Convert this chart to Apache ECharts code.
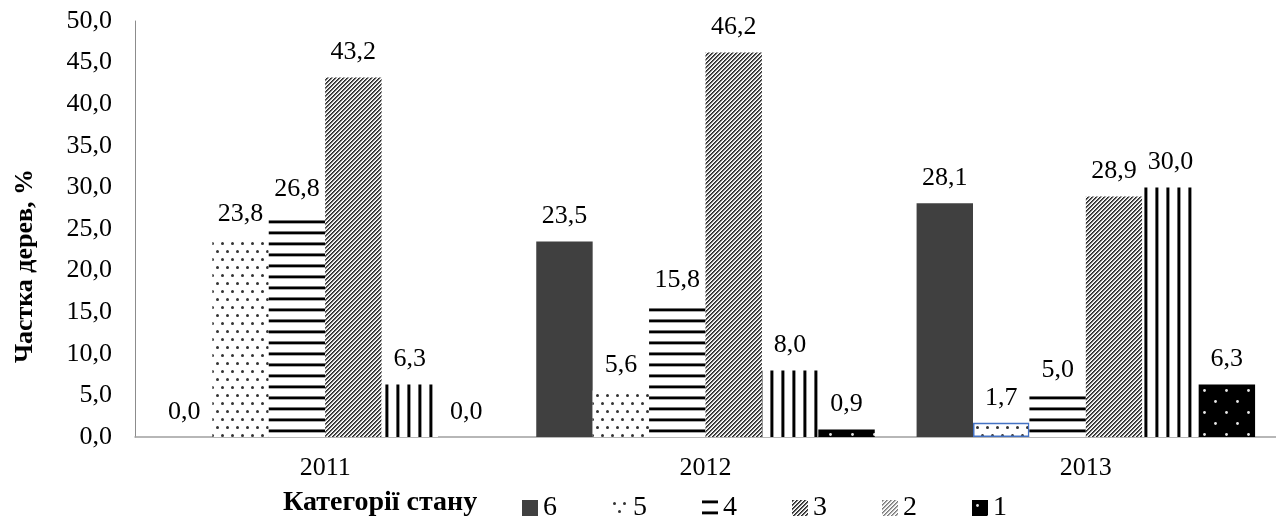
<!DOCTYPE html>
<html>
<head>
<meta charset="utf-8">
<script src="https://cdn.jsdelivr.net/npm/echarts@6/dist/echarts.min.js"></script>
<style>
  html, body { margin: 0; padding: 0; background: #fff; }
  #chart { width: 1276px; height: 518px; }
</style>
</head>
<body>
<div id="chart"></div>
<script>
// Частка дерев за категоріями стану, 2011–2013
const categories = ['2011', '2012', '2013'];
const seriesNames = ['6', '5', '4', '3', '2', '1'];
const cat6 = [0.0, 23.5, 28.1];
const cat5 = [23.8, 5.6, 1.7];
const cat4 = [26.8, 15.8, 5.0];
const cat3 = [43.2, 46.2, 28.9];
const cat2 = [6.3, 8.0, 30.0];
const cat1 = [0.0, 0.9, 6.3];
const yMin = 0, yMax = 50, yStep = 5;
const yAxisTitle = 'Частка дерев, %';
const legendTitle = 'Категорії стану';

const FONT = '"Liberation Serif", "Times New Roman", serif';

// --- fill patterns -------------------------------------------------------
function tile(w, h, draw) {
  const c = document.createElement('canvas');
  c.width = w; c.height = h;
  const g = c.getContext('2d');
  draw(g, w, h);
  return c;
}
function pattern(canvas) { return { image: canvas, repeat: 'repeat' }; }

// small dark dots on white, staggered
const dotsLight = tile(10, 16, (g, w, h) => {
  g.fillStyle = '#fff'; g.fillRect(0, 0, w, h);
  g.fillStyle = '#333';
  [[2.5, 3.5], [7.5, 11.5]].forEach(([x, y]) => { g.beginPath(); g.arc(x, y, 1.5, 0, Math.PI * 2); g.fill(); });
});
// horizontal black stripes
const hLines = tile(4, 11, (g, w, h) => {
  g.fillStyle = '#fff'; g.fillRect(0, 0, w, h);
  g.fillStyle = '#777'; g.fillRect(0, 0, w, 1);
  g.fillStyle = '#000'; g.fillRect(0, 1, w, 2);
  g.fillStyle = '#aaa'; g.fillRect(0, 3, w, 1);
});
// dense upward diagonal stripes
function diagTile(shades) {
  return tile(4, 4, (g, w, h) => {
    for (let y = 0; y < h; y++) for (let x = 0; x < w; x++) {
      g.fillStyle = shades[(x + y) % 4];
      g.fillRect(x, y, 1, 1);
    }
  });
}
const diag = diagTile(['#2a2a2a', '#5a5a5a', '#d8d8d8', '#ffffff']);
const diagLight = diagTile(['#7a7a7a', '#a8a8a8', '#ececec', '#ffffff']);
// vertical black stripes
const vLines = tile(11, 4, (g, w, h) => {
  g.fillStyle = '#fff'; g.fillRect(0, 0, w, h);
  g.fillStyle = '#666'; g.fillRect(0, 0, 1, h);
  g.fillStyle = '#000'; g.fillRect(1, 0, 2, h);
  g.fillStyle = '#999'; g.fillRect(3, 0, 1, h);
});
// white dots on black
const dotsDark = tile(22, 22, (g, w, h) => {
  g.fillStyle = '#000'; g.fillRect(0, 0, w, h);
  g.fillStyle = '#e8e8e8';
  [[5.5, 5.5], [16.5, 16.5]].forEach(([x, y]) => { g.beginPath(); g.arc(x, y, 1.4, 0, Math.PI * 2); g.fill(); });
});

const fills = ['#404040', pattern(dotsLight), pattern(hLines), pattern(diag), pattern(vLines), pattern(dotsDark)];
const values = [cat6, cat5, cat4, cat3, cat2, cat1];

const fmt = v => Number(v).toFixed(1).replace('.', ',');

const series = seriesNames.map((name, i) => {
  let data = values[i];
  if (name === '5') {
    // the 2013 bar of category 5 carries a thin blue outline
    data = data.map((v, j) => j === 2 ? { value: v, itemStyle: { borderColor: '#4472C4', borderWidth: 1.5 } } : v);
  }
  return {
    name,
    type: 'bar',
    data,
    barGap: '0%',
    barCategoryGap: '11%',
    itemStyle: { color: fills[i] },
    label: {
      show: true,
      position: 'top',
      distance: 12,
      color: '#000',
      fontFamily: FONT,
      fontSize: 26,
      formatter: p => fmt(p.value)
    },
    emphasis: { disabled: true }
  };
});

// legend swatches: category 2 is shown with a light diagonal swatch
const legendData = seriesNames.map(n => n === '2' ? { name: n, itemStyle: { color: pattern(diagLight) } } : { name: n });

const chart = echarts.init(document.getElementById('chart'), null, { renderer: 'canvas' });
chart.setOption({
  animation: false,
  backgroundColor: '#fff',
  grid: { left: 135, right: 0, top: 21, bottom: 81, containLabel: false },
  xAxis: {
    type: 'category',
    data: categories,
    axisTick: { show: false },
    axisLine: { lineStyle: { color: '#a0a0a0', width: 1.5 } },
    axisLabel: { color: '#000', fontFamily: FONT, fontSize: 26, margin: 18 }
  },
  yAxis: {
    type: 'value',
    min: yMin, max: yMax, interval: yStep,
    axisLine: { show: true, lineStyle: { color: '#8c8c8c', width: 1 } },
    axisTick: { show: false },
    splitLine: { show: false },
    axisLabel: { color: '#000', fontFamily: FONT, fontSize: 26, margin: 23, formatter: v => fmt(v) }
  },
  legend: {
    data: legendData,
    left: 517,
    top: 489,
    itemWidth: 16,
    itemHeight: 16,
    itemGap: 55,
    selectedMode: false,
    icon: 'rect',
    textStyle: { color: '#000', fontFamily: FONT, fontSize: 28, padding: [0, 0, 0, 0] }
  },
  graphic: [
    {
      type: 'text',
      x: 25, y: 266,
      rotation: Math.PI / 2,
      style: {
        text: yAxisTitle,
        fill: '#000',
        font: 'bold 26px ' + FONT,
        align: 'center',
        verticalAlign: 'middle'
      }
    },
    {
      type: 'text',
      x: 283, y: 503,
      style: {
        text: legendTitle,
        fill: '#000',
        font: 'bold 28px ' + FONT,
        align: 'left',
        verticalAlign: 'middle'
      }
    }
  ],
  series
});
</script>
</body>
</html>
